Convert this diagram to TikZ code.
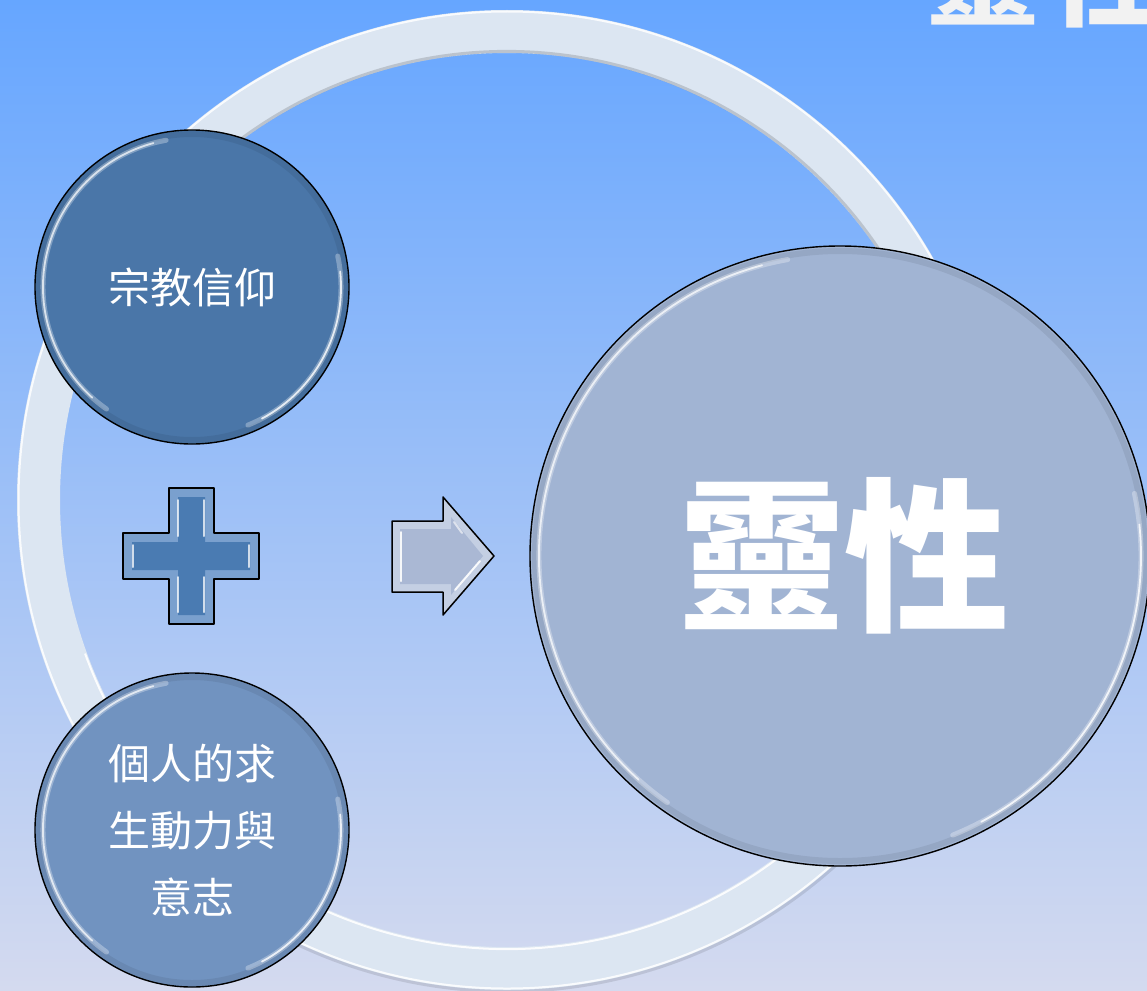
\documentclass[tikz,border=0pt]{standalone}
\usepackage{fontspec}
\newfontfamily\tcfont{Noto Sans CJK TC}
\definecolor{bgtop}{RGB}{102,166,255}
\definecolor{bgmid}{RGB}{142,192,248}
\definecolor{bgbot}{RGB}{212,218,239}
\definecolor{ringcol}{RGB}{220,230,242}
\definecolor{cone}{RGB}{74,118,168}
\definecolor{ctwo}{RGB}{113,147,192}
\definecolor{cbig}{RGB}{161,180,211}
\definecolor{pluscol}{RGB}{74,123,178}
\definecolor{plusrim}{RGB}{122,160,206}
\definecolor{arrowcol}{RGB}{170,184,212}
\definecolor{arrowrim}{RGB}{196,207,227}
\definecolor{titlecol}{RGB}{242,242,242}
\newcommand\bubblegloss[2]{%
  \draw[black, opacity=.07, line width=6pt] (#1) circle[radius=#2+4];
  \draw[white, opacity=.3, line width=5pt, line cap=round] (#1) ++(-100:#2) arc[start angle=-100, end angle=-235, radius=#2];
  \draw[white, opacity=.7, line width=1.8pt, line cap=round] (#1) ++(-105:#2) arc[start angle=-105, end angle=-228, radius=#2];
  \draw[white, opacity=.3, line width=5pt, line cap=round] (#1) ++(68:#2) arc[start angle=68, end angle=-12, radius=#2];
  \draw[white, opacity=.8, line width=1.8pt, line cap=round] (#1) ++(62:#2) arc[start angle=62, end angle=-6, radius=#2];
}
\tikzset{
  bubble/.style={circle, draw=black, line width=1.4pt, inner sep=0pt, text=white, align=center},
  smalltext/.style={font=\tcfont\fontsize{42}{67}\selectfont},
  shapeline/.style={draw=black, line width=1.5pt, line join=round},
  hilite/.style={white, opacity=.75, line width=2pt, line cap=round}
}
\begin{document}
\begin{tikzpicture}[x=1pt,y=-1pt]
\useasboundingbox (0,0) rectangle (1147,990);
\clip (0,0) rectangle (1147,990);
\shade[top color=bgtop, middle color=bgmid, bottom color=bgbot] (0,0) rectangle (1147,990);

% ring
\coordinate (rc) at (507,500);
\fill[ringcol, even odd rule] (rc) circle[radius=490] (rc) circle[radius=447];
\draw[white, opacity=.85, line width=2pt] (rc) circle[radius=488.5];
\draw[black, opacity=.1, line width=3pt] (rc) ++(15:491.5) arc[start angle=15, end angle=120, radius=491.5];
\draw[black, opacity=.15, line width=3pt] (rc) ++(-25:448.5) arc[start angle=-25, end angle=-160, radius=448.5];
\draw[white, opacity=.9, line width=2pt] (rc) ++(160:449) arc[start angle=160, end angle=20, radius=449];

% small circles
\node[bubble, fill=cone, minimum size=314pt, smalltext] (faith) at (192,287) {宗教信仰};
\bubblegloss{faith}{149}
\node[bubble, fill=ctwo, minimum size=314pt, smalltext] (will) at (192,830) {個人的求\\生動力與\\意志};
\bubblegloss{will}{149}

% plus
\filldraw[fill=plusrim, shapeline] (169,488) -- (214,488) -- (214,533) -- (259,533) -- (259,579) -- (214,579) -- (214,624) -- (169,624) -- (169,579) -- (123,579) -- (123,533) -- (169,533) -- cycle;
\fill[pluscol] (178,497) -- (205,497) -- (205,542) -- (250,542) -- (250,570) -- (205,570) -- (205,615) -- (178,615) -- (178,570) -- (132,570) -- (132,542) -- (178,542) -- cycle;
\draw[hilite] (178,500) -- (178,536);
\draw[hilite] (178,577) -- (178,612);
\draw[hilite] (204,500) -- (204,536);
\draw[hilite] (204,577) -- (204,612);
\draw[hilite] (133,545) -- (133,567);
\draw[hilite] (249,545) -- (249,567);

% arrow
\filldraw[fill=arrowrim, shapeline] (392,521) -- (443,521) -- (443,497) -- (494,556) -- (443,615) -- (443,592) -- (392,592) -- cycle;
\fill[arrowcol] (400,529) -- (451,529) -- (451,517) -- (483,556) -- (451,595) -- (451,584) -- (400,584) -- cycle;
\draw[hilite, opacity=.9] (401,532) -- (401,581);
\draw[hilite, opacity=.9] (455,590) -- (480,561);
\draw[hilite, opacity=.6] (454,522) -- (462,533);

% big circle
\node[bubble, fill=cbig, minimum size=620pt, font=\tcfont\bfseries\fontsize{165}{165}\selectfont] (spirit) at (840,556) {\hspace*{8pt}靈性};
\bubblegloss{spirit}{301}

% cut-off title
\node[anchor=base west, inner sep=0pt, text=titlecol, font=\tcfont\bfseries\fontsize{112}{112}\selectfont] (title) at (927,18) {靈\hspace{12pt}性};
\end{tikzpicture}
\end{document}
